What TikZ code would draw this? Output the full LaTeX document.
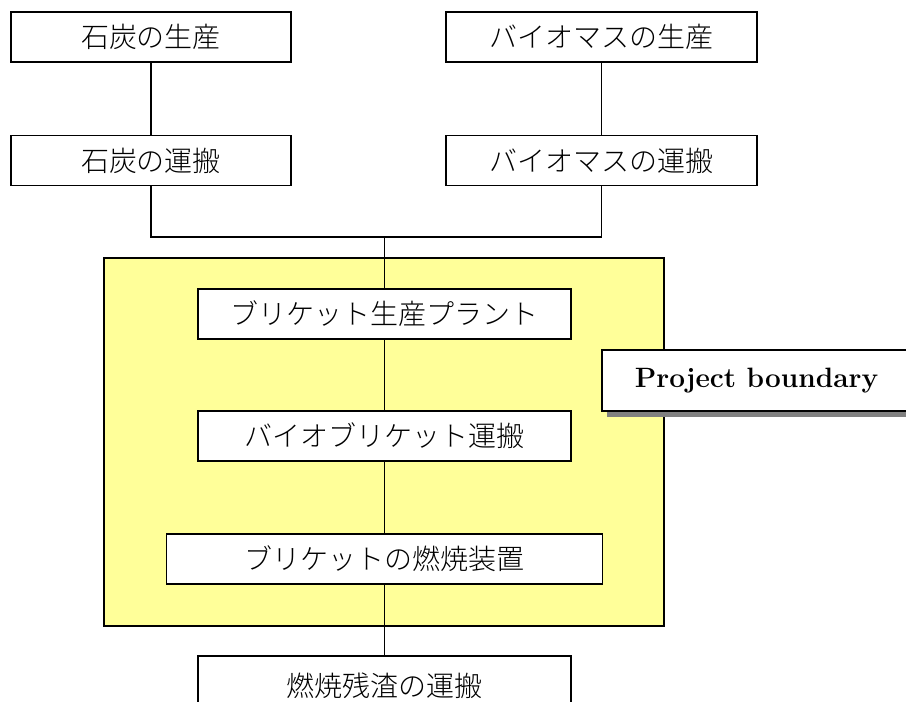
\documentclass[tikz,border=0pt]{standalone}
\usepackage{fontspec}
\newfontfamily\cjk{Noto Sans CJK JP}[UprightFont=* Light]
\usetikzlibrary{shadows}
\definecolor{bndyellow}{HTML}{FFFF99}
\tikzset{
  procbox/.style={draw, fill=white, line width=1.6pt, inner sep=0pt,
    minimum height=50pt, font=\cjk\fontsize{28}{30}\selectfont},
  conn/.style={line width=1.8pt},
}
\begin{document}
\begin{tikzpicture}[x=1pt,y=-1pt]
\useasboundingbox (0,0) rectangle (906,702);
\clip (0,0) rectangle (906,702);
% yellow project area
\node[draw, fill=bndyellow, line width=1.6pt, minimum width=560pt, minimum height=368pt, inner sep=0pt] (bnd) at (384,442) {};
% top row
\node[procbox, minimum width=280pt] (coal1) at (151,37) {石炭の生産};
\node[procbox, minimum width=280pt] (coal2) at (151,160.5) {石炭の運搬};
\node[procbox, minimum width=311pt] (bio1) at (601.5,37) {バイオマスの生産};
\node[procbox, minimum width=311pt] (bio2) at (601.5,160.5) {バイオマスの運搬};
\coordinate (j) at (384.5,237);
% inside boundary
\node[procbox, minimum width=373pt] (plant) at (384.5,314) {ブリケット生産プラント};
\node[procbox, minimum width=373pt] (trans) at (384.5,436) {バイオブリケット運搬};
\node[procbox, minimum width=436pt] (burn) at (384.5,559) {ブリケットの燃焼装置};
\node[procbox, minimum width=373pt, minimum height=60pt] (resid) at (384.5,686) {燃焼残渣の運搬};
% label
\node[draw, fill=white, line width=1.6pt, inner sep=0pt, minimum width=309pt, minimum height=61pt,
  drop shadow={shadow xshift=5pt, shadow yshift=-6pt, fill=black!50, opacity=1},
  font=\bfseries\fontsize{28}{32}\selectfont] (pb) at (756.5,380.5) {Project boundary};
% connectors
\draw[conn] (coal1.south) -- (coal2.north);
\draw[conn] (bio1.south) -- (bio2.north);
\draw[conn] (coal2.south) |- (j) -| (bio2.south);
\draw[conn] (j) -- (plant.north);
\draw[conn] (plant.south) -- (trans.north);
\draw[conn] (trans.south) -- (burn.north);
\draw[conn] (burn.south) -- (resid.north);
\end{tikzpicture}
\end{document}
